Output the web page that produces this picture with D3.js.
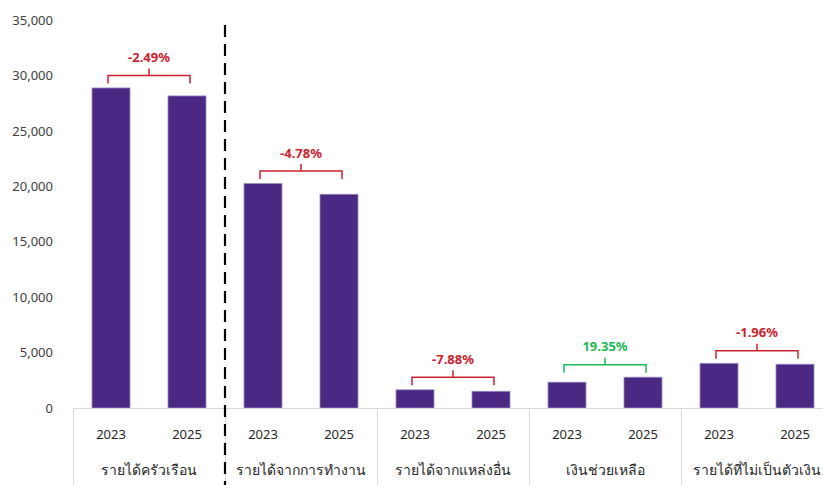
<!DOCTYPE html>
<html><head><meta charset="utf-8">
<script src="https://cdn.jsdelivr.net/npm/d3@7"></script>
<style>
body{margin:0;background:#fff;}
text{font-family:"Noto Sans","DejaVu Sans",sans-serif;}
</style></head>
<body><svg id="c" width="823" height="485"></svg>
<script>
const categories = ["รายได้ครัวเรือน","รายได้จากการทำงาน","รายได้จากแหล่งอื่น","เงินช่วยเหลือ","รายได้ที่ไม่เป็นตัวเงิน"];
const years = ["2023","2025"];
const values2023 = [28870, 20250, 1640, 2330, 4030];
const values2025 = [28150, 19280, 1510, 2780, 3950];
const changeLabels = ["-2.49%","-4.78%","-7.88%","19.35%","-1.96%"];
const yTicks = [0,5000,10000,15000,20000,25000,30000,35000];

(function(){
const svg = d3.select("#c");
const left = 73, groupW = 152, plotTop = 20, bottom = 408;
const x0 = d3.scaleBand().domain(categories).range([left, left + groupW*categories.length]).padding(0);
const x1 = d3.scaleBand().domain(years).range([0, groupW]).paddingInner(0.5).paddingOuter(0.25);
const y = d3.scaleLinear().domain([0,35000]).range([bottom, plotTop]);

const yAxis = d3.axisLeft(y).tickValues(yTicks).tickFormat(d3.format(",")).tickSize(0).tickPadding(0);
const ya = svg.append("g").attr("transform","translate(53,0)").call(yAxis);
ya.select(".domain").remove();
ya.selectAll("text").attr("font-size",13).attr("fill","#404040");

const data = categories.map((c,i)=>({c, vals:[values2023[i], values2025[i]], label:changeLabels[i]}));
const purple = "#4B2883";
data.forEach(d=>{
  years.forEach((yr,j)=>{
    svg.append("rect")
      .attr("x", x0(d.c)+x1(yr)).attr("width", x1.bandwidth())
      .attr("y", y(d.vals[j])).attr("height", bottom - y(d.vals[j]))
      .attr("fill", purple).attr("stroke","#9b8cc4").attr("stroke-width",0.8);
  });
  const up = d.vals[1] >= d.vals[0];
  const col = up ? "#1DB954" : "#D0202E";
  const xa = x0(d.c)+x1("2023")+x1.bandwidth()/2 - 3;
  const xb = x0(d.c)+x1("2025")+x1.bandwidth()/2 + 3;
  const hy = Math.min(y(d.vals[0]), y(d.vals[1])) - 12.5;
  const xm = (xa+xb)/2;
  svg.append("path")
    .attr("d", `M${xa},${hy+8}V${hy}H${xb}V${hy+8}M${xm},${hy}V${hy-7}`)
    .attr("fill","none").attr("stroke",col).attr("stroke-width",1.5);
  svg.append("text").attr("x",xm).attr("y",hy-18).attr("dy","0.35em")
    .attr("text-anchor","middle").attr("font-size",13).attr("font-weight","bold")
    .attr("fill",col).text(d.label);
});

const grey = "#d9d9d9";
svg.append("line").attr("x1",left).attr("x2",823).attr("y1",bottom+0.5).attr("y2",bottom+0.5).attr("stroke",grey);
categories.forEach(c=>{
  svg.append("line").attr("x1",x0(c)+0.5).attr("x2",x0(c)+0.5).attr("y1",bottom).attr("y2",485).attr("stroke",grey);
});
data.forEach(d=>{
  years.forEach(yr=>{
    svg.append("text").attr("x", x0(d.c)+x1(yr)+x1.bandwidth()/2).attr("y",434).attr("dy","0.35em")
      .attr("text-anchor","middle").attr("font-size",13).attr("fill","#262626").text(yr);
  });
  svg.append("text").attr("x", x0(d.c)+groupW/2).attr("y",470).attr("dy","0.35em")
    .attr("text-anchor","middle").attr("font-size",14).attr("fill","#262626").text(d.c);
});

svg.append("line").attr("x1",x0(categories[1])).attr("x2",x0(categories[1]))
  .attr("y1",25).attr("y2",485).attr("stroke","#000").attr("stroke-width",2.2).attr("stroke-dasharray","12,7");
})();
</script></body></html>
